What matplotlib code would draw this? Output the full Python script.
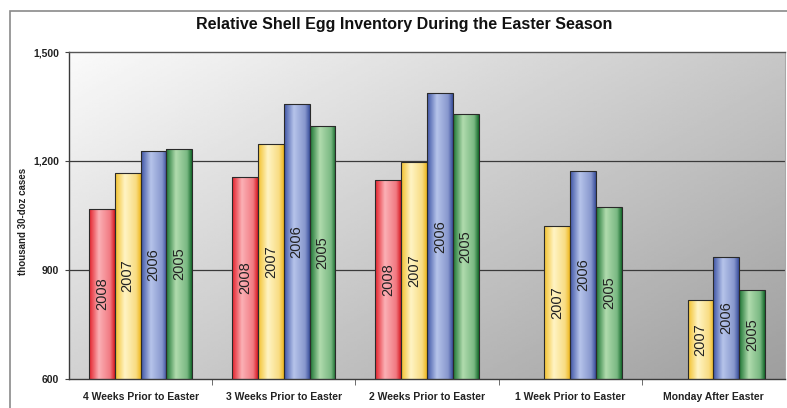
import numpy as np
import matplotlib
matplotlib.use("Agg")
import matplotlib.pyplot as plt
from matplotlib.colors import LinearSegmentedColormap
from matplotlib.patches import Rectangle

plt.rcParams["font.family"] = ["Liberation Sans", "DejaVu Sans"]

# data
periods = ["4 Weeks Prior to Easter", "3 Weeks Prior to Easter",
           "2 Weeks Prior to Easter", "1 Week Prior to Easter",
           "Monday After Easter"]
years = ["2008", "2007", "2006", "2005"]
inv_2008 = [1068, 1156, 1149, np.nan, np.nan]
inv_2007 = [1167, 1248, 1196, 1020, 818]
inv_2006 = [1227, 1356, 1386, 1172, 937]
inv_2005 = [1234, 1296, 1328, 1073, 845]
series = [inv_2008, inv_2007, inv_2006, inv_2005]

# edge / highlight / mid colours for the cylinder-like shading
shades = [
    ["#e3202a", "#fbb0b5", "#f17a82", "#d81c24"],
    ["#f2c12e", "#fff4c4", "#f8dc82", "#efb820"],
    ["#3f55a6", "#b6c4ea", "#8797cd", "#3a4f9c"],
    ["#1c7432", "#b0dbad", "#79b882", "#166a2c"],
]

fig = plt.figure(figsize=(7.87, 4.08), dpi=100)
W, H = 787, 408
ax = fig.add_axes([69 / W, (H - 379) / H, 716 / W, (379 - 52) / H])

# outer frame of the chart
fig.patches.append(Rectangle((10 / W, -0.1), 1.2, (H - 11) / H + 0.1,
                             transform=fig.transFigure, fill=False,
                             edgecolor="#8a8a8a", lw=1.2))

ymin, ymax = 600, 1500
x = np.arange(len(periods))
bw = 0.18

# background gradient, light top-left to grey bottom-right
gx, gy = np.meshgrid(np.linspace(0, 1, 200), np.linspace(0, 1, 200))
bg = 0.98 - 0.20 * gx - 0.16 * gy
ax.imshow(bg, cmap="gray", vmin=0, vmax=1, extent=(-0.5, 4.5, ymin, ymax),
          origin="upper", aspect="auto", zorder=0)

for yv in [900, 1200]:
    ax.axhline(yv, color="#3a3a3a", lw=0.9, zorder=1)

ramp = np.linspace(0, 1, 64).reshape(1, -1)
for i, (vals, cols) in enumerate(zip(series, shades)):
    cmap = LinearSegmentedColormap.from_list(
        years[i], list(zip([0, 0.38, 0.82, 1], cols)))
    bars = ax.bar(x + (i - 1.5) * bw, vals, bw, bottom=0,
                  facecolor="none", edgecolor="#2a2a2a", lw=0.8, zorder=3)
    for b, v in zip(bars, vals):
        if np.isnan(v):
            continue
        im = ax.imshow(ramp, cmap=cmap, aspect="auto", zorder=2,
                       extent=(b.get_x(), b.get_x() + b.get_width(), ymin, v))
        im.set_clip_path(b)
        ax.text(b.get_x() + b.get_width() / 2, (ymin + v) / 2, years[i],
                rotation=90, ha="center", va="center", fontsize=10.5,
                color="#222222", zorder=4)

ax.set_xlim(-0.5, 4.5)
ax.set_ylim(ymin, ymax)
ax.set_yticks([600, 900, 1200, 1500])
ax.set_yticklabels(["600", "900", "1,200", "1,500"], fontsize=7.5,
                   fontweight="bold", color="#222222")
ax.set_xticks(x)
ax.set_xticklabels(periods, fontsize=7.5, fontweight="bold", color="#222222")
ax.tick_params(axis="x", length=0, pad=9)
ax.set_xticks(np.arange(0.5, 4.5, 1), minor=True)
ax.tick_params(axis="x", which="minor", length=4, color="#555555")
ax.tick_params(axis="y", length=3, color="#444444", pad=4.3)

for s in ["left", "bottom"]:
    ax.spines[s].set_color("#3a3a3a")
    ax.spines[s].set_linewidth(1.0)
ax.spines["top"].set_color("#555555")
ax.spines["top"].set_linewidth(1.0)
ax.spines["right"].set_color("#a8a8a8")

fig.text(404 / W, (H - 25) / H,
         "Relative Shell Egg Inventory During the Easter Season",
         ha="center", va="center", fontsize=11.5, fontweight="bold",
         color="#111111")
fig.text(23 / W, (H - 221) / H, "thousand 30-doz cases", rotation=90,
         ha="center", va="center", fontsize=7, fontweight="bold",
         color="#222222")

fig.savefig("out.png", dpi=100)
